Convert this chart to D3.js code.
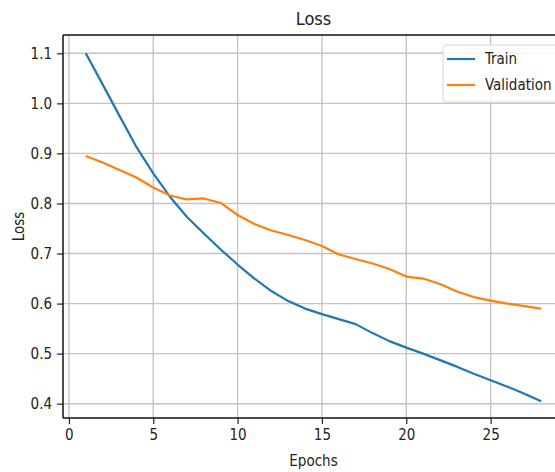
<!DOCTYPE html>
<html><head><meta charset="utf-8">
<script src="https://cdn.jsdelivr.net/npm/d3@7"></script>
<style>
html,body{margin:0;padding:0;background:#fff;}
svg text{font-family:"DejaVu Sans Condensed","DejaVu Sans",sans-serif;fill:#222;}
</style></head>
<body>
<svg id="c" width="555" height="472"></svg>
<script>
const epochs = d3.range(1, 29);
const trainLoss = [1.100,1.038,0.975,0.913,0.860,0.813,0.773,0.740,0.708,0.678,0.650,0.625,0.605,0.590,0.579,0.569,0.559,0.541,0.525,0.512,0.500,0.487,0.474,0.460,0.447,0.434,0.420,0.405];
const valLoss = [0.895,0.882,0.867,0.852,0.832,0.816,0.808,0.810,0.801,0.777,0.759,0.746,0.737,0.727,0.715,0.698,0.689,0.680,0.669,0.654,0.650,0.639,0.624,0.613,0.606,0.600,0.595,0.590];
const xTicks = [0,5,10,15,20,25];
const yTicks = [0.4,0.5,0.6,0.7,0.8,0.9,1.0,1.1];
const seriesNames = ["Train","Validation"];
const colors = ["#1f77b4","#ff7f0e"];

const L=63, T=35, B=418, R=564;
const svg = d3.select("#c");
const x = d3.scaleLinear().domain([-0.35, 29.35]).range([L, R]);
const y = d3.scaleLinear().domain([0.3714, 1.1366]).range([B, T]);

// grid
svg.append("g").selectAll("line").data(xTicks).join("line")
  .attr("x1",d=>x(d)).attr("x2",d=>x(d)).attr("y1",T).attr("y2",B)
  .attr("stroke","#c4c4c4").attr("stroke-width",1.4);
svg.append("g").selectAll("line").data(yTicks).join("line")
  .attr("x1",L).attr("x2",R).attr("y1",d=>y(d)).attr("y2",d=>y(d))
  .attr("stroke","#c4c4c4").attr("stroke-width",1.4);

// lines
const series = [trainLoss, valLoss];
const line = d3.line().x((d,i)=>x(epochs[i])).y(d=>y(d));
series.forEach((s,k)=>{
  svg.append("path").datum(s).attr("d",line).attr("fill","none")
    .attr("stroke",colors[k]).attr("stroke-width",2.2).attr("stroke-linejoin","round");
});

// axes
const xAxis = d3.axisBottom(x).tickValues(xTicks).tickSize(6).tickPadding(5).tickFormat(d3.format("d"));
const yAxis = d3.axisLeft(y).tickValues(yTicks).tickSize(6).tickPadding(5).tickFormat(d3.format(".1f"));
const gx = svg.append("g").attr("transform",`translate(0,${B})`).call(xAxis);
const gy = svg.append("g").attr("transform",`translate(${L},0)`).call(yAxis);
[gx,gy].forEach(g=>{
  g.select(".domain").remove();
  g.selectAll(".tick line").attr("stroke","#222").attr("stroke-width",1.2);
  g.selectAll(".tick text").attr("font-size",15).style("fill","#222");
});
gy.selectAll(".tick text").attr("dy","0.35em");

// spines
svg.append("line").attr("x1",L).attr("x2",L).attr("y1",T).attr("y2",B).attr("stroke","#111").attr("stroke-width",1.5);
svg.append("line").attr("x1",L).attr("x2",R).attr("y1",B).attr("y2",B).attr("stroke","#111").attr("stroke-width",1.5);
svg.append("line").attr("x1",L).attr("x2",R).attr("y1",T).attr("y2",T).attr("stroke","#111").attr("stroke-width",1.5);

// title and labels
svg.append("text").attr("x",(L+R)/2).attr("y",25).attr("text-anchor","middle").attr("font-size",18).text("Loss");
svg.append("text").attr("x",(L+R)/2).attr("y",466).attr("text-anchor","middle").attr("font-size",15).text("Epochs");
svg.append("text").attr("transform",`translate(24,${(T+B)/2}) rotate(-90)`).attr("text-anchor","middle").attr("font-size",15).text("Loss");

// legend
const lg = svg.append("g");
lg.append("rect").attr("x",443).attr("y",45).attr("width",140).attr("height",57).attr("rx",3)
  .attr("fill","#fff").attr("fill-opacity",0.85).attr("stroke","#d6d6d6").attr("stroke-width",1);
seriesNames.forEach((n,k)=>{
  const yy = 59 + k*26;
  lg.append("line").attr("x1",447).attr("x2",475).attr("y1",yy).attr("y2",yy).attr("stroke",colors[k]).attr("stroke-width",2.2);
  lg.append("text").attr("x",485).attr("y",yy).attr("dy","0.35em").attr("font-size",15).text(n);
});
</script>
</body></html>
